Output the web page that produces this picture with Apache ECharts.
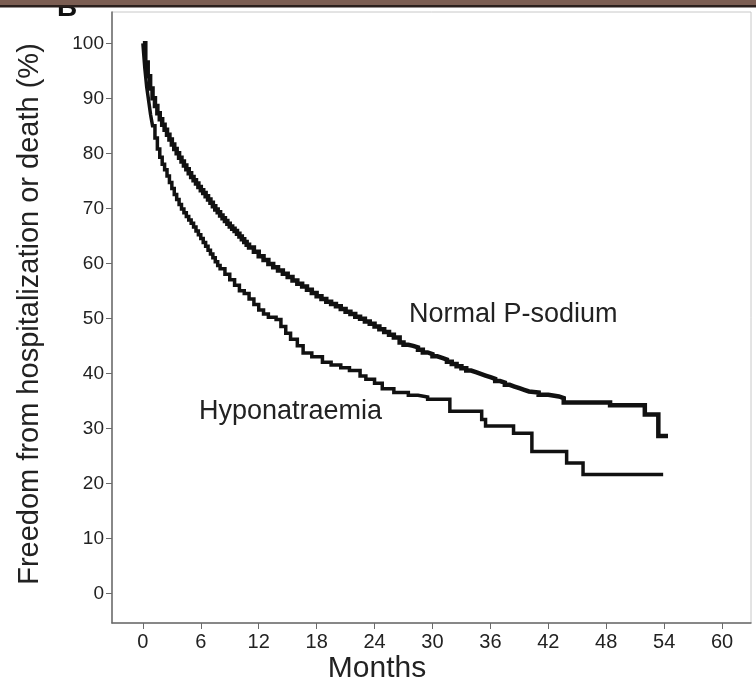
<!DOCTYPE html>
<html>
<head>
<meta charset="utf-8">
<script src="https://cdn.jsdelivr.net/npm/echarts@6/dist/echarts.min.js"></script>
<style>
  html, body { margin: 0; padding: 0; background: #fff; }
  #chart { width: 756px; height: 689px; }
</style>
</head>
<body>
<div id="chart"></div>
<script>
// Kaplan-Meier style curves: freedom from hospitalization or death (%) by months
const monthTicks = [0, 6, 12, 18, 24, 30, 36, 42, 48, 54, 60];
const percentTicks = [0, 10, 20, 30, 40, 50, 60, 70, 80, 90, 100];

const normalMonths = [0, 0.25, 0.5, 0.75, 1.0, 1.25, 1.5, 1.75, 2.0, 2.25, 2.5, 2.75, 3.0, 3.25, 3.5, 3.75, 4.0, 4.25, 4.5, 4.75, 5.0, 5.25, 5.5, 5.75, 6.0, 6.25, 6.5, 6.75, 7.0, 7.25, 7.5, 7.75, 8.0, 8.25, 8.5, 8.75, 9.0, 9.25, 9.5, 9.75, 10.0, 10.25, 10.5, 10.75, 11.0, 11.5, 12.0, 12.5, 13.0, 13.5, 14.0, 14.5, 15.0, 15.5, 16.0, 16.5, 17.0, 17.5, 18.0, 18.5, 19.0, 19.5, 20.0, 20.5, 21.0, 21.5, 22.0, 22.5, 23.0, 23.5, 24.0, 24.5, 25.0, 25.5, 26.0, 26.6, 27.0, 27.5, 28.0, 28.5, 29.0, 29.5, 30.0, 30.5, 31.0, 31.5, 32.0, 32.5, 33.0, 33.5, 34.0, 34.5, 35.0, 35.5, 36.0, 36.5, 37.0, 37.5, 38.0, 38.5, 39.0, 39.5, 40.0, 41.0, 42.0, 43.1, 43.6, 48.4, 52.0, 53.4, 54.4];
const normalSurvival = [100, 96.5, 94, 91.8, 90, 88.6, 87.3, 86.2, 85.2, 84.3, 83.4, 82.5, 81.6, 80.8, 80, 79.2, 78.5, 77.8, 77.1, 76.4, 75.7, 75.1, 74.5, 73.9, 73.3, 72.8, 72.2, 71.6, 71, 70.4, 69.8, 69.3, 68.7, 68.2, 67.7, 67.2, 66.7, 66.3, 65.9, 65.4, 64.9, 64.4, 63.9, 63.4, 62.9, 62.1, 61.3, 60.6, 59.9, 59.3, 58.7, 58.1, 57.5, 56.9, 56.3, 55.8, 55.2, 54.6, 54, 53.5, 53, 52.6, 52.2, 51.7, 51.2, 50.8, 50.3, 49.9, 49.4, 49, 48.5, 48, 47.5, 47, 46.5, 45.6, 45.2, 45, 44.7, 44.3, 43.8, 43.5, 43.1, 42.8, 42.5, 42.1, 41.7, 41.3, 40.9, 40.5, 40.2, 39.9, 39.6, 39.3, 39.0, 38.6, 38.3, 37.9, 37.6, 37.3, 37.0, 36.7, 36.5, 36.1, 35.8, 35.5, 34.7, 34.2, 32.5, 28.6, 28.6];

const hypoMonths = [0, 0.2, 0.4, 0.6, 0.8, 1.0, 1.25, 1.5, 1.75, 2.0, 2.25, 2.5, 2.75, 3.0, 3.25, 3.5, 3.75, 4.0, 4.25, 4.5, 4.75, 5.0, 5.25, 5.5, 5.75, 6.0, 6.25, 6.5, 6.75, 7.0, 7.25, 7.5, 7.75, 8.0, 8.5, 9.0, 9.5, 10.0, 10.5, 11.0, 11.5, 12.0, 12.5, 13.0, 13.8, 14.3, 14.8, 15.3, 16.0, 16.6, 17.5, 18.6, 19.5, 20.5, 21.4, 22.5, 23.1, 24.0, 24.8, 26.0, 27.5, 28.5, 29.5, 31.8, 35.1, 35.5, 38.4, 40.3, 43.9, 45.6, 53.9];
const hypoSurvival = [100, 95.5, 92, 89.5, 87, 85, 82.8, 80.8, 79.3, 78, 77, 75.9, 74.7, 73.6, 72.5, 71.6, 70.7, 69.9, 69.2, 68.5, 67.9, 67.3, 66.6, 65.9, 65.2, 64.5, 63.8, 63.1, 62.4, 61.7, 61, 60.3, 59.6, 59, 58, 57, 56, 55, 54.5, 53.5, 52.5, 51.5, 50.8, 50.2, 49.8, 48.5, 47.3, 46.2, 45, 43.7, 43, 42, 41.5, 41, 40.5, 39.5, 38.9, 38.2, 37.2, 36.5, 36, 35.7, 35.3, 33.1, 31.6, 30.4, 29.1, 25.8, 23.7, 21.6, 21.6];

const pairs = (xs, ys) => xs.map((x, i) => [x, ys[i]]);

const FONT = '"Liberation Sans", Arial, Helvetica, sans-serif';
const chart = echarts.init(document.getElementById('chart'), null, { renderer: 'canvas' });

chart.setOption({
  backgroundColor: '#ffffff',
  animation: false,
  grid: {
    left: 112, right: 5, top: 12, bottom: 66,
    show: true, borderColor: '#c8c8c8', borderWidth: 1, backgroundColor: 'transparent'
  },
  xAxis: {
    type: 'value', min: -3.2, max: 63,
    axisLine: { show: true, onZero: false, lineStyle: { color: '#6a6a6a', width: 1.5 } },
    axisTick: { show: true, customValues: monthTicks, length: 6, lineStyle: { color: '#6a6a6a' } },
    axisLabel: { customValues: monthTicks, color: '#222', fontSize: 20, fontFamily: FONT, margin: 9 },
    splitLine: { show: false }
  },
  yAxis: {
    type: 'value', min: -5.4, max: 105.7,
    axisLine: { show: true, onZero: false, lineStyle: { color: '#6a6a6a', width: 1.5 } },
    axisTick: { show: true, customValues: percentTicks, length: 6, lineStyle: { color: '#6a6a6a' } },
    axisLabel: { customValues: percentTicks, color: '#222', fontSize: 19, fontFamily: FONT, margin: 8 },
    splitLine: { show: false }
  },
  series: [
    {
      name: 'Normal P-sodium', type: 'line', step: 'end', showSymbol: false,
      data: pairs(normalMonths, normalSurvival),
      lineStyle: { color: '#111', width: 4.5, join: 'miter' }
    },
    {
      name: 'Hyponatraemia', type: 'line', step: 'end', showSymbol: false,
      data: pairs(hypoMonths, hypoSurvival),
      lineStyle: { color: '#111', width: 3.5, join: 'miter' }
    }
  ],
  graphic: [
    { type: 'text', left: 57, top: -6, z: 10,
      style: { text: 'B', fill: '#111', font: 'bold 28px ' + FONT } },
    { type: 'rect', left: 0, top: 0, z: 20, shape: { width: 756, height: 5 }, style: { fill: '#7b5d52' } },
    { type: 'rect', left: 0, top: 5, z: 20, shape: { width: 756, height: 2.5 }, style: { fill: '#2a1f1c' } },
    { type: 'text', x: 30, y: 314, rotation: Math.PI / 2, z: 10,
      style: { text: 'Freedom from hospitalization or death (%)', fill: '#222', font: '29px ' + FONT,
               align: 'center', verticalAlign: 'middle' } },
    { type: 'text', x: 377, y: 669, z: 10,
      style: { text: 'Months', fill: '#222', font: '30px ' + FONT, align: 'center', verticalAlign: 'middle' } },
    { type: 'text', x: 409, y: 315, z: 10,
      style: { text: 'Normal P-sodium', fill: '#222', font: '27px ' + FONT, align: 'left', verticalAlign: 'middle' } },
    { type: 'text', x: 199, y: 412, z: 10,
      style: { text: 'Hyponatraemia', fill: '#222', font: '27px ' + FONT, align: 'left', verticalAlign: 'middle' } }
  ]
});
</script>
</body>
</html>
